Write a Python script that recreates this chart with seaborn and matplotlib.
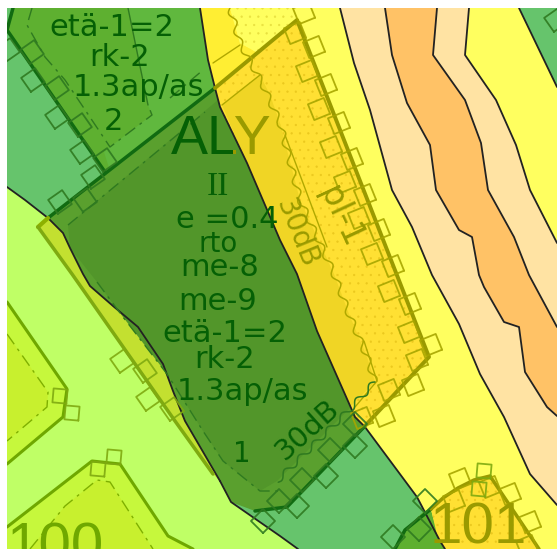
#!/usr/bin/env python3
import matplotlib
matplotlib.use("Agg")
import matplotlib.pyplot as plt
import numpy as np
import seaborn as sns
from matplotlib.patches import Polygon
from matplotlib.transforms import Bbox, TransformedBbox

YELLOW_LEFT = [(200, 8), (208, 60), (215, 88), (220, 107), (247, 163), (280, 240), (297, 274),
               (317, 331), (355, 417), (365, 427), (417, 497), (440, 541), (445, 549)]
YELLOW_RIGHT = [(340, 8), (354, 63), (370, 110), (392, 190), (412, 227), (432, 275), (459, 324),
                (480, 374), (504, 417), (530, 474), (557, 505)]
ORANGE_LEFT = [(385, 8), (392, 55), (407, 103), (430, 145), (436, 190), (459, 230), (472, 237),
               (479, 275), (484, 287), (504, 322), (519, 327), (525, 372), (547, 407), (557, 416)]
ORANGE_RIGHT = [(437, 8), (433, 55), (465, 100), (481, 143), (488, 190), (514, 237), (529, 275), (557, 327)]
CREAM_RIGHT = [(469, 8), (465, 55), (496, 100), (516, 145), (530, 190), (557, 243)]
GREEN_CORNER = [(519, 8), (557, 87), (557, 8)]
WEST_EDGE = [(7, 187), (25, 200), (48, 218), (63, 233), (70, 248), (83, 274), (90, 286), (113, 306),
             (138, 327), (163, 364), (173, 391), (185, 421), (220, 481)]
SOUTH_EDGE = [(220, 481), (231, 502), (280, 536), (298, 549)]

TOP_PLOT = [(13, 8), (7, 30), (105, 172), (215, 88), (208, 60), (200, 8)]
TOP_LIGHT = [(128, 8), (200, 8), (208, 60), (215, 88), (110, 171), (104, 152), (110, 147), (152, 115), (148, 105)]
TOP_INNER = [(32, 8), (27, 25), (45, 57), (65, 80), (110, 147), (152, 115), (148, 105), (128, 8)]
DARK_PLOT = [(48, 218), (215, 88), (220, 107), (247, 163), (280, 240), (297, 274), (317, 331), (355, 417),
             (364, 427), (287, 507), (280, 507), (255, 511), (231, 502), (220, 481), (185, 421), (173, 391),
             (163, 364), (138, 327), (113, 306), (90, 286), (83, 274), (70, 248), (63, 233)]
DARK_INNER = [(68, 225), (218, 100), (220, 107), (247, 163), (280, 240), (297, 274), (317, 331), (350, 408),
              (277, 481), (260, 491), (223, 461), (203, 431), (167, 374), (123, 317), (97, 282), (70, 248)]
DARK_DASH = [(97, 282), (123, 317), (167, 374), (203, 431), (223, 461), (260, 491), (280, 491)]
YELLOW_PLOT = [(215, 88), (297, 20), (429, 357), (364, 427), (355, 417), (317, 331), (297, 274), (280, 240),
               (247, 163), (220, 107)]
YELLOW_SHADE = [(222, 105), (260, 75), (270, 95), (280, 123), (300, 200), (334, 274), (349, 314), (367, 357),
                (375, 382), (350, 407), (355, 417), (317, 331), (297, 274), (280, 240), (247, 163)]
TOP_DOTS = [(230, 8), (295, 8), (297, 20), (258, 53), (240, 43)]
TOP_BRIGHT = [(200, 8), (230, 8), (240, 43), (258, 53), (215, 88), (208, 60)]
WAVE = [(230, 8), (240, 43), (262, 83), (280, 123), (300, 200), (334, 274), (349, 314), (367, 357),
        (375, 382), (350, 409), (277, 481)]
OLIVE_STRIP = [(48, 218), (38, 227), (72, 274), (175, 421), (213, 474), (220, 481), (185, 421), (173, 391),
               (163, 364), (138, 327), (113, 306), (90, 286), (83, 274), (70, 248), (63, 233)]
LOWER_GREEN = [(220, 481), (231, 502), (280, 536), (298, 549), (445, 549), (440, 541), (417, 497), (365, 427),
               (287, 507), (255, 511)]
PLOT_A = [(7, 302), (67, 389), (63, 417), (7, 464)]
PLOT_A_IN = [(7, 334), (48, 392), (47, 407), (7, 441)]
PLOT_B = [(7, 527), (92, 461), (120, 464), (168, 536), (193, 549), (7, 549)]
PLOT_B_IN = [(30, 549), (65, 506), (97, 480), (110, 482), (153, 549)]
ARC_101 = [(431, 509), (443, 498), (458, 488), (474, 480), (490, 476), (539, 549)]
PLOT_101 = [(437, 535), (431, 509), (443, 498), (458, 488), (474, 480), (490, 476), (539, 549), (445, 549)]
GREEN_101 = [(395, 549), (405, 530), (424, 511), (431, 510), (440, 541), (445, 549)]

NW_SQUARES = [(32, 52), (8, 50), (33, 80), (57, 88), (57, 117), (80, 125), (82, 152), (105, 160), (93, 177),
              (85, 200), (60, 202), (556, 20)]
SE_SQUARES = [(355, 424), (355, 446), (330, 450), (326, 476), (302, 480), (297, 506), (279, 501), (263, 521),
              (419, 529), (393, 537), (425, 501)]
OLIVE_SQUARES = [(304, 13), (295, 33), (314, 47), (307, 71), (326, 85), (319, 109), (339, 123), (331, 147),
                 (352, 159), (345, 182), (365, 195), (359, 218), (379, 230), (372, 254), (393, 266), (389, 291),
                 (410, 304), (409, 332), (431, 345), (417, 360), (413, 385), (389, 390), (384, 416), (362, 418),
                 (460, 479), (454, 501), (490, 487), (510, 494), (530, 522), (527, 546)]
LIME_SQUARES = [(122, 361), (145, 371), (148, 399), (172, 409)]
FLAT_SQUARES = [(60, 396), (72, 413), (114, 457), (98, 469), (484, 471), (479, 489)]

# text, x, y, size, rotation
GREEN_LABELS = [("etä-1=2", 112, 27, 22, 0), ("rk-2", 120, 57, 22, 0), ("1.3ap/as", 138, 87, 22, 0),
                ("2", 113, 122, 22, 0), ("e =0.4", 227, 219, 22, 0), ("rto", 218, 244, 20, 0),
                ("me-8", 220, 268, 22, 0), ("me-9", 218, 302, 22, 0), ("etä-1=2", 225, 334, 22, 0),
                ("rk-2", 225, 360, 22, 0), ("1.3ap/as", 242, 391, 22, 0), ("1", 242, 454, 20, 0),
                ("30dB", 307, 430, 21, 42)]
OLIVE_LABELS = [("30dB", 297, 233, 20, -68), ("pl-1", 340, 217, 24, -65)]


def fill(ax, pts, color, **kw):
    patch = Polygon(pts, closed=True, facecolor=color, edgecolor="none", **kw)
    ax.add_patch(patch)
    return patch


def dotted(ax, pts, color, dot_color):
    patch = Polygon(pts, closed=True, facecolor=color, edgecolor=dot_color, hatch="..", linewidth=0)
    ax.add_patch(patch)
    return patch


def line(ax, pts, color, width=1.5, dashes=None, **kw):
    pts = np.array(pts)
    n_before = len(ax.lines)
    sns.lineplot(x=pts[:, 0], y=pts[:, 1], sort=False, estimator=None, color=color, linewidth=width, ax=ax, **kw)
    drawn = ax.lines[n_before]
    if dashes:
        drawn.set_dashes(dashes)
    return drawn


def squares(ax, centers, angle, color, side=17, width=1.3):
    for cx, cy in centers:
        t = np.radians(angle + np.array([45, 135, 225, 315, 405]))
        r = side / np.sqrt(2)
        ax.plot(cx + r * np.cos(t), cy + r * np.sin(t), color=color, lw=width, alpha=0.9)


sns.set_theme(style="white")
plt.rcParams["font.family"] = ["DejaVu Sans"]
plt.rcParams["hatch.linewidth"] = 0.4

fig = plt.figure(figsize=(5.57, 5.49), dpi=100)
ax = fig.add_axes([7 / 557, 0, 550 / 557, 541 / 549])
ax.set_axis_off()

LIME = "#BFFF66"
GREEN = "#66C46C"
YELLOW = "#FFFF5F"
CREAM = "#FFE3A3"
ORANGE = "#FFC266"
OLIVE = "#9A9A00"
TXT_GREEN = "#056005"
BLACK = "#222222"
DASH = (9, 4, 2, 4)

fill(ax, [(7, 8), (557, 8), (557, 549), (7, 549)], LIME)
fill(ax, [(7, 8), (200, 8)] + YELLOW_LEFT[1:7] + [(355, 417), (365, 427), (220, 481)] + WEST_EDGE[::-1][1:], GREEN)
fill(ax, LOWER_GREEN, GREEN)
fill(ax, YELLOW_LEFT + [(557, 549), (557, 87), (519, 8)], YELLOW)
fill(ax, GREEN_CORNER, GREEN)
fill(ax, [(340, 8)] + YELLOW_RIGHT[1:] + [(557, 243)] + CREAM_RIGHT[::-1][1:], CREAM)
fill(ax, ORANGE_LEFT + ORANGE_RIGHT[::-1], ORANGE)

# lower left plots
fill(ax, PLOT_A, "#C6F83C")
fill(ax, PLOT_A_IN, "#C8F02E")
fill(ax, PLOT_B, "#C6F83C")
fill(ax, PLOT_B_IN, "#C8F02E")
fill(ax, OLIVE_STRIP, "#C3E030")

# green plots
fill(ax, TOP_PLOT, "#5EB030")
fill(ax, TOP_LIGHT, "#60B83E")
fill(ax, DARK_PLOT, "#5AA02E")
fill(ax, DARK_INNER, "#52962A")
fill(ax, GREEN_101, "#5EB030")

# yellow plot with its dotted part
dotted(ax, YELLOW_PLOT, "#FFE033", "#EBC81E")
fill(ax, YELLOW_SHADE, "#F0D525")
fill(ax, TOP_BRIGHT, "#FFEE33")
dotted(ax, TOP_DOTS, YELLOW, "#E8E040")
dotted(ax, PLOT_101, "#FFE033", "#EBC81E")

# edges
for pts in [YELLOW_LEFT, YELLOW_RIGHT, ORANGE_LEFT, ORANGE_RIGHT, CREAM_RIGHT, WEST_EDGE, SOUTH_EDGE,
            [(519, 8), (557, 87)]]:
    line(ax, pts, BLACK, 1.3)

line(ax, [(13, 8), (7, 30), (105, 172)], "#116B11", 2.5)
line(ax, [(48, 218), (215, 88)], "#116B11", 2.5)
line(ax, [(215, 88), (297, 20), (429, 357), (364, 427)], OLIVE, 2.8)
line(ax, [(364, 427), (287, 507), (255, 511)], "#116B11", 2.5)
line(ax, [(38, 227), (48, 218)], "#8DB000", 3)
line(ax, [(38, 227), (72, 274), (175, 421), (213, 474)], "#7FAA10", 2.5)
line(ax, PLOT_A, "#6FA800", 2.2)
line(ax, PLOT_B[:5], "#6FA800", 2.2)
line(ax, [(395, 549), (405, 530), (431, 509)], "#116B11", 2.5)
line(ax, ARC_101, OLIVE, 2.5)

# inner building lines
line(ax, TOP_INNER[:-1], "#2F7A20", 1, dashes=DASH)
line(ax, TOP_INNER[-2:], "#2F7A20", 1)
line(ax, [(170, 98), (203, 70)], "#2F7A20", 1, dashes=DASH)
line(ax, [(68, 225), (205, 112)], "#2F7A20", 1, dashes=DASH)
line(ax, DARK_DASH, "#2F7A20", 1, dashes=DASH)
line(ax, PLOT_A_IN, "#7FB000", 1, dashes=DASH)
line(ax, PLOT_B_IN, "#7FB000", 1, dashes=DASH)
line(ax, [(213, 63), (240, 45)], "#B0A800", 1)
line(ax, [(222, 105), (260, 75)], "#B0A800", 1)
line(ax, [(285, 135), (327, 247)], "#B0A800", 1)
line(ax, [(364, 341), (377, 381), (355, 407)], "#B0A800", 1)

wave_olive = line(ax, WAVE[:9], "#B0A800", 1.1)
wave_olive.set_sketch_params(scale=3, length=20, randomness=1)
wave_green = line(ax, WAVE[8:], "#2F7A20", 1.1)
wave_green.set_sketch_params(scale=3, length=20, randomness=1)

squares(ax, OLIVE_SQUARES, -22, "#A8A600")
squares(ax, NW_SQUARES, 55, "#2F7A20")
squares(ax, SE_SQUARES, 45, "#2F7A20")
squares(ax, LIME_SQUARES, 55, "#7FAA10")
squares(ax, FLAT_SQUARES, 5, "#7FAA10", side=14)

ax.set_xlim(7, 557)
ax.set_ylim(549, 8)
ax.set(xlabel="", ylabel="")

for s, x, y, size, rot in GREEN_LABELS:
    ax.text(x, y, s, fontsize=size, rotation=rot, color=TXT_GREEN, ha="center", va="center",
            rotation_mode="anchor")
for s, x, y, size, rot in OLIVE_LABELS:
    ax.text(x, y, s, fontsize=size, rotation=rot, color=OLIVE, ha="center", va="center",
            rotation_mode="anchor")

# ALY runs over the plot border, so it changes colour there (Agg clips text to boxes only)
for color, box in [(TXT_GREEN, [[7, 8], [233, 549]]), (OLIVE, [[233, 8], [557, 549]])]:
    t = ax.text(221, 140, "ALY", fontsize=40, color=color, ha="center", va="center",
                family=["Liberation Sans Narrow", "Liberation Sans"])
    t.set_clip_on(True)
    t.set_clip_box(TransformedBbox(Bbox(box), ax.transData))
ax.text(218, 187, "II", fontsize=24, color=TXT_GREEN, ha="center", va="center", family="Liberation Serif")
ax.text(55, 548, "100", fontsize=42, color="#6FA800", ha="center", va="center", family="Liberation Sans", clip_on=True)
ax.text(478, 528, "101", fontsize=42, color=OLIVE, ha="center", va="center", family="Liberation Sans", clip_on=True)

fig.savefig("out.png", dpi=100)
